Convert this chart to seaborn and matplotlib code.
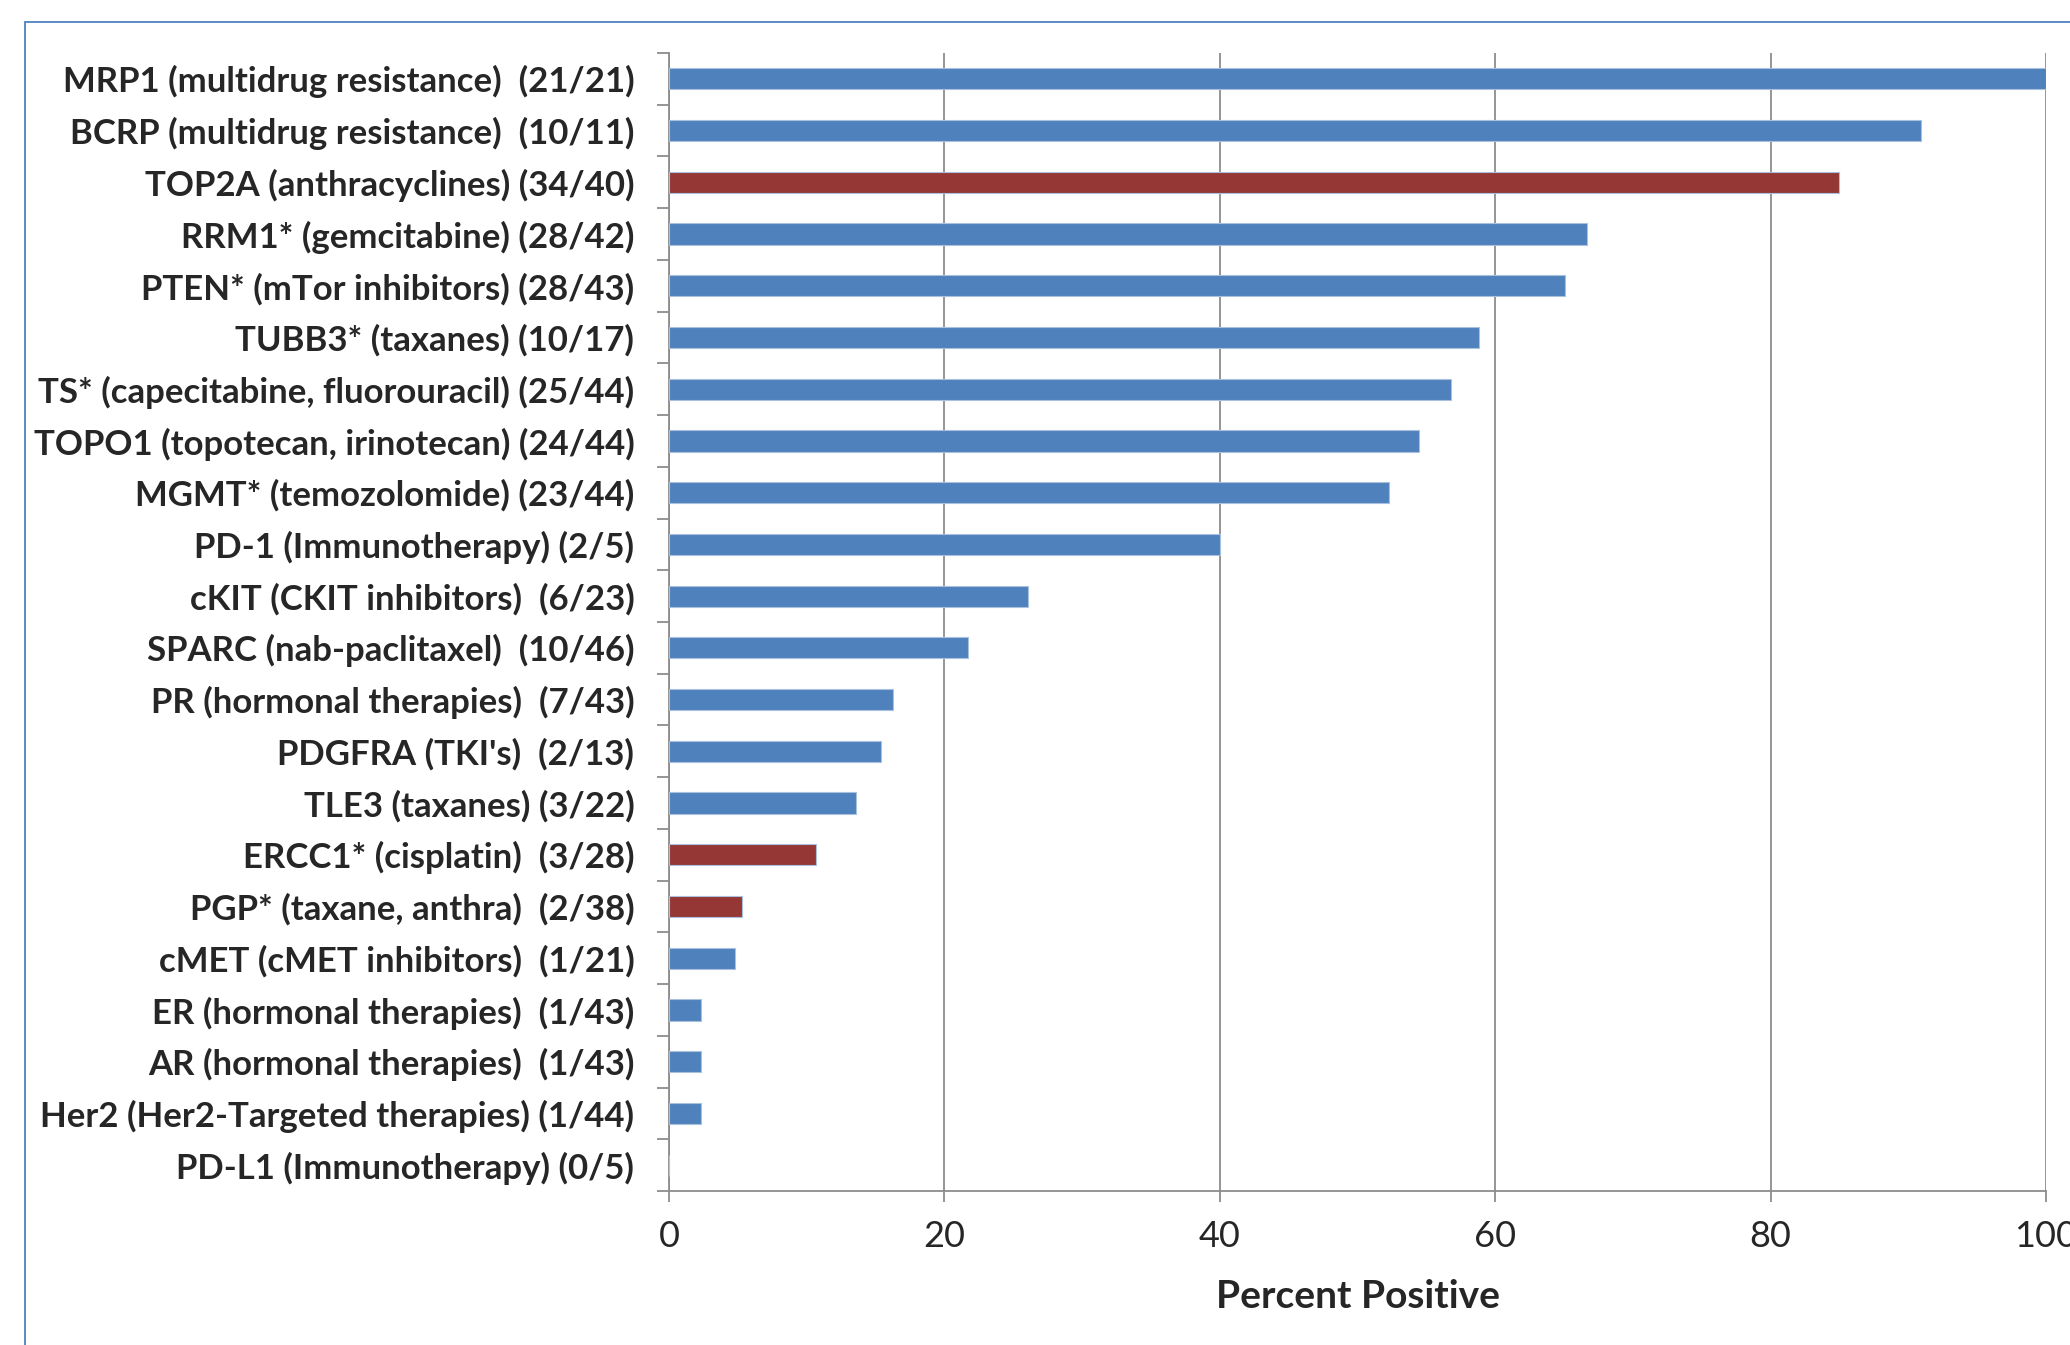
import seaborn as sns
import matplotlib.pyplot as plt
import matplotlib.patches as mpatches
from matplotlib.ticker import FixedLocator

BLUE = '#4F81BD'
RED = '#953735'

labels = [
    'MRP1 (multidrug resistance)  (21/21)',
    'BCRP (multidrug resistance)  (10/11)',
    'TOP2A (anthracyclines) (34/40)',
    'RRM1* (gemcitabine) (28/42)',
    'PTEN* (mTor inhibitors) (28/43)',
    'TUBB3* (taxanes) (10/17)',
    'TS* (capecitabine, fluorouracil) (25/44)',
    'TOPO1 (topotecan, irinotecan) (24/44)',
    'MGMT* (temozolomide) (23/44)',
    'PD-1 (Immunotherapy) (2/5)',
    'cKIT (CKIT inhibitors)  (6/23)',
    'SPARC (nab-paclitaxel)  (10/46)',
    'PR (hormonal therapies)  (7/43)',
    "PDGFRA (TKI's)  (2/13)",
    'TLE3 (taxanes) (3/22)',
    'ERCC1* (cisplatin)  (3/28)',
    'PGP* (taxane, anthra)  (2/38)',
    'cMET (cMET inhibitors)  (1/21)',
    'ER (hormonal therapies)  (1/43)',
    'AR (hormonal therapies)  (1/43)',
    'Her2 (Her2-Targeted therapies) (1/44)',
    'PD-L1 (Immunotherapy) (0/5)',
]
percent = [100.0, 90.9, 85.0, 66.7, 65.1, 58.8, 56.8, 54.5, 52.3, 40.0, 26.1,
           21.7, 16.3, 15.4, 13.6, 10.7, 5.3, 4.8, 2.3, 2.3, 2.3, 0.0]
red_rows = ['TOP2A (anthracyclines) (34/40)', 'ERCC1* (cisplatin)  (3/28)',
            'PGP* (taxane, anthra)  (2/38)']

colors = [RED if l in red_rows else BLUE for l in labels]

sns.set_style('white')
plt.rcParams['font.family'] = ['Lato', 'DejaVu Sans']

fig = plt.figure(figsize=(20.7, 13.45), dpi=100)
ax = fig.add_axes([669 / 2070, 1 - 1191 / 1345, (2046 - 669) / 2070, (1191 - 53) / 1345])

sns.barplot(x=percent, y=labels, hue=labels, palette=colors, legend=False,
            orient='h', width=0.41, ax=ax, edgecolor='#a9c0de', linewidth=0.8,
            saturation=1, zorder=3)

ax.set_xlim(0, 100)
ax.set_ylim(len(labels) - 0.5, -0.5)
ax.set_xticks([0, 20, 40, 60, 80, 100])
ax.grid(axis='x', color='#8c8c8c', linewidth=1.3, zorder=0)
ax.grid(axis='y', visible=False)

for s in ['top', 'right']:
    ax.spines[s].set_visible(False)
for s in ['left', 'bottom']:
    ax.spines[s].set_color('#8c8c8c')
    ax.spines[s].set_linewidth(1.3)

ax.yaxis.set_minor_locator(FixedLocator([i - 0.5 for i in range(len(labels) + 1)]))
ax.tick_params(axis='y', which='major', length=0, pad=25, labelsize=25)
ax.tick_params(axis='y', which='minor', length=8.5, width=1.3, color='#8c8c8c', left=True)
ax.tick_params(axis='x', which='major', length=8, width=1.3, color='#8c8c8c',
               bottom=True, pad=13, labelsize=26)
for t in ax.get_yticklabels():
    t.set_fontweight('bold')

ax.set_ylabel('')
ax.set_xlabel('Percent Positive', fontsize=28, fontweight='bold')
ax.xaxis.set_label_coords(0.5, -(1296 - 1191) / (1191 - 53))
ax.xaxis.label.set_va('center')

frame = mpatches.Rectangle((25 / 2070, -0.2), 1.2, 1.2 - 22 / 1345, transform=fig.transFigure,
                           fill=False, edgecolor='#5b8ac6', linewidth=1.4)
fig.patches.append(frame)

fig.savefig('out.png', dpi=100)
